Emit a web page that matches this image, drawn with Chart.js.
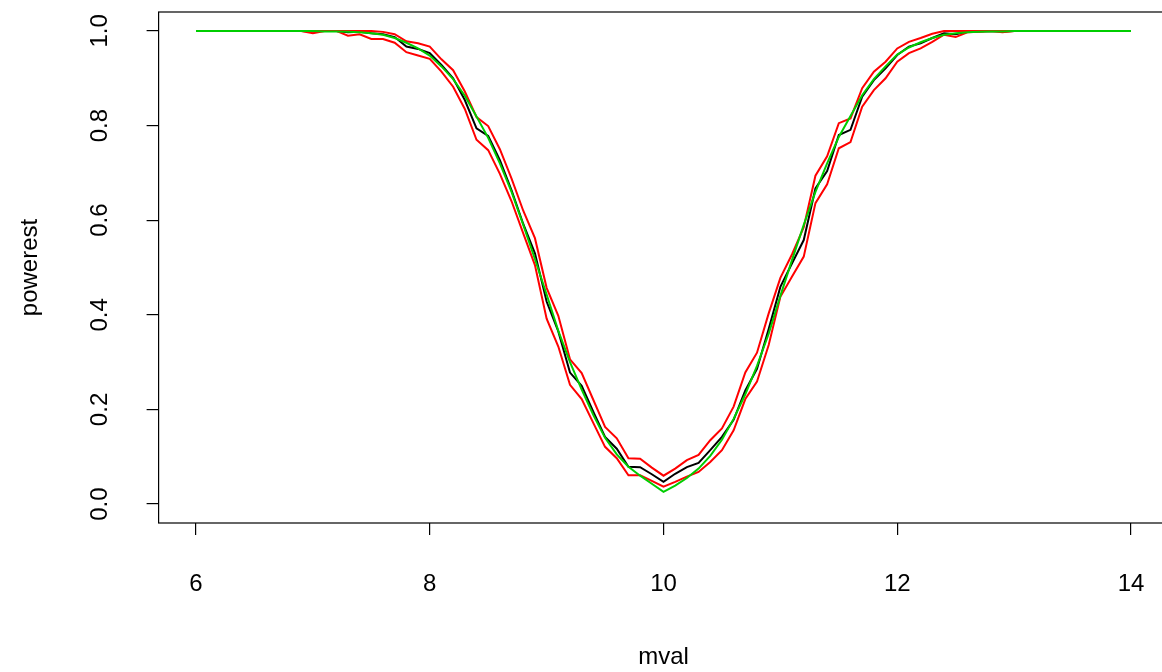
<!DOCTYPE html>
<html>
<head>
<meta charset="utf-8">
<script src="https://cdn.jsdelivr.net/npm/chart.js@4"></script>
<style>
  html, body { margin: 0; padding: 0; background: #fff; overflow: hidden; }
  #wrap { width: 1172px; height: 672px; }
</style>
</head>
<body>
<div id="wrap"><canvas id="grafico" width="1172" height="672"></canvas></div>
<script>
// valores de m (eje x)
const mval = [
  6.0, 6.1, 6.2, 6.3, 6.4, 6.5, 6.6, 6.7, 6.8, 6.9,
  7.0, 7.1, 7.2, 7.3, 7.4, 7.5, 7.6, 7.7, 7.8, 7.9,
  8.0, 8.1, 8.2, 8.3, 8.4, 8.5, 8.6, 8.7, 8.8, 8.9,
  9.0, 9.1, 9.2, 9.3, 9.4, 9.5, 9.6, 9.7, 9.8, 9.9,
  10.0, 10.1, 10.2, 10.3, 10.4, 10.5, 10.6, 10.7, 10.8, 10.9,
  11.0, 11.1, 11.2, 11.3, 11.4, 11.5, 11.6, 11.7, 11.8, 11.9,
  12.0, 12.1, 12.2, 12.3, 12.4, 12.5, 12.6, 12.7, 12.8, 12.9,
  13.0, 13.1, 13.2, 13.3, 13.4, 13.5, 13.6, 13.7, 13.8, 13.9,
  14.0
]

// potencia estimada (linea negra)
const powerest = [
  1, 1, 1, 1, 1, 1, 1, 1, 1, 1,
  0.999, 1, 1, 0.997, 0.998, 0.995, 0.993, 0.987, 0.967, 0.962,
  0.953, 0.928, 0.900, 0.854, 0.794, 0.778, 0.727, 0.663, 0.592, 0.530,
  0.428, 0.365, 0.278, 0.250, 0.195, 0.142, 0.117, 0.079, 0.078, 0.063,
  0.047, 0.064, 0.078, 0.087, 0.114, 0.142, 0.178, 0.240, 0.286, 0.370,
  0.459, 0.509, 0.558, 0.667, 0.704, 0.780, 0.791, 0.861, 0.896, 0.921,
  0.949, 0.967, 0.974, 0.985, 0.995, 0.993, 0.998, 0.999, 1, 0.999,
  1, 1, 1, 1, 1, 1, 1, 1, 1, 1,
  1
]

// limite superior (rojo)
const upper = [
  1, 1, 1, 1, 1, 1, 1, 1, 1, 1,
  1, 1, 1, 1, 1, 1, 0.998, 0.993, 0.978, 0.974,
  0.967, 0.940, 0.917, 0.872, 0.818, 0.799, 0.750, 0.688, 0.620, 0.562,
  0.457, 0.398, 0.306, 0.277, 0.220, 0.163, 0.139, 0.097, 0.096, 0.077,
  0.060, 0.075, 0.093, 0.104, 0.135, 0.160, 0.206, 0.278, 0.320, 0.403,
  0.478, 0.528, 0.585, 0.694, 0.735, 0.805, 0.815, 0.879, 0.914, 0.935,
  0.963, 0.977, 0.985, 0.994, 1, 1, 1, 1, 1, 1,
  1, 1, 1, 1, 1, 1, 1, 1, 1, 1,
  1
]

// limite inferior (rojo)
const lower = [
  1, 1, 1, 1, 1, 1, 1, 1, 1, 1,
  0.995, 1, 1, 0.990, 0.993, 0.983, 0.983, 0.975, 0.955, 0.948,
  0.941, 0.914, 0.882, 0.835, 0.770, 0.748, 0.698, 0.640, 0.572, 0.505,
  0.392, 0.333, 0.252, 0.222, 0.171, 0.121, 0.097, 0.061, 0.061, 0.049,
  0.037, 0.047, 0.058, 0.068, 0.089, 0.114, 0.156, 0.222, 0.259, 0.336,
  0.438, 0.481, 0.523, 0.636, 0.676, 0.752, 0.765, 0.840, 0.875, 0.900,
  0.935, 0.953, 0.963, 0.977, 0.992, 0.987, 0.997, 0.998, 1, 0.997,
  1, 1, 1, 1, 1, 1, 1, 1, 1, 1,
  1
]

// potencia teorica (verde)
const theory = [
  1, 1, 1, 1, 1, 1, 1, 1, 1, 1,
  1, 0.999, 0.999, 0.998, 0.997, 0.995, 0.992, 0.985, 0.975, 0.963,
  0.948, 0.925, 0.898, 0.863, 0.819, 0.774, 0.720, 0.660, 0.590, 0.518,
  0.443, 0.366, 0.300, 0.242, 0.188, 0.140, 0.105, 0.079, 0.060, 0.043,
  0.026, 0.039, 0.055, 0.075, 0.102, 0.136, 0.180, 0.232, 0.292, 0.360,
  0.440, 0.516, 0.590, 0.660, 0.720, 0.776, 0.820, 0.864, 0.898, 0.925,
  0.950, 0.965, 0.976, 0.985, 0.992, 0.995, 0.997, 0.998, 0.999, 0.999,
  1, 1, 1, 1, 1, 1, 1, 1, 1, 1,
  1
]

const xTicks = [6, 8, 10, 12, 14]
const yTicks = [0, 0.2, 0.4, 0.6, 0.8, 1.0]

const fuente = { family: "'Liberation Sans', Arial, Helvetica, sans-serif", size: 24 }

function puntos(valores) {
    return mval.map((x, i) => ({ x: x, y: valores[i] }))
}

function serie(valores, color) {
    return {
        data: puntos(valores),
        borderColor: color,
        borderWidth: 2,
        pointRadius: 0,
        tension: 0,
        fill: false
    }
}

// marco alrededor del area del grafico (como box() en R)
const marco = {
    id: 'marco',
    afterDraw(chart) {
        const { ctx, chartArea } = chart
        ctx.save()
        ctx.strokeStyle = '#000'
        ctx.lineWidth = 1.2
        ctx.strokeRect(chartArea.left, chartArea.top, chartArea.right - chartArea.left, chartArea.bottom - chartArea.top)
        ctx.restore()
    }
}

const ctx = document.getElementById('grafico').getContext('2d')
const grafico = new Chart(ctx, {
    type: 'line',
    data: {
        datasets: [
            serie(theory, '#00cd00'),
            serie(upper, '#ff0000'),
            serie(lower, '#ff0000'),
            serie(powerest, '#000000')
        ]
    },
    options: {
        responsive: false,
        animation: false,
        layout: { padding: { top: 12, right: 3.6, left: 0, bottom: 0 } },
        plugins: {
            legend: { display: false },
            tooltip: { enabled: false }
        },
        scales: {
            x: {
                type: 'linear',
                min: 5.68,
                max: 14.32,
                afterBuildTicks: (scale) => { scale.ticks = xTicks.map(v => ({ value: v })) },
                afterFit: (scale) => {
                    scale.height = 149
                    scale.paddingLeft = 0
                    scale.paddingRight = 0
                },
                border: { display: false },
                grid: { drawOnChartArea: false, drawTicks: true, tickLength: 12, color: '#000', lineWidth: 1.2 },
                ticks: { color: '#000', font: fuente, padding: 35, maxRotation: 0, autoSkip: false },
                title: { display: true, text: 'mval', color: '#000', font: fuente, padding: { top: 0, bottom: 0 } }
            },
            y: {
                min: -0.04,
                max: 1.04,
                afterBuildTicks: (scale) => { scale.ticks = yTicks.map(v => ({ value: v })) },
                afterFit: (scale) => {
                    scale.width = 158.6
                    scale.paddingTop = 0
                    scale.paddingBottom = 0
                },
                border: { display: false },
                grid: { drawOnChartArea: false, drawTicks: true, tickLength: 12, color: '#000', lineWidth: 1.2 },
                ticks: {
                    color: '#000', font: fuente, padding: 30, minRotation: 90, maxRotation: 90,
                    crossAlign: 'center', autoSkip: false,
                    callback: (v) => Number(v).toFixed(1)
                },
                title: { display: true, text: 'powerest', color: '#000', font: fuente, padding: { top: 15.6, bottom: 0 } }
            }
        }
    },
    plugins: [marco]
})
</script>
</body>
</html>
